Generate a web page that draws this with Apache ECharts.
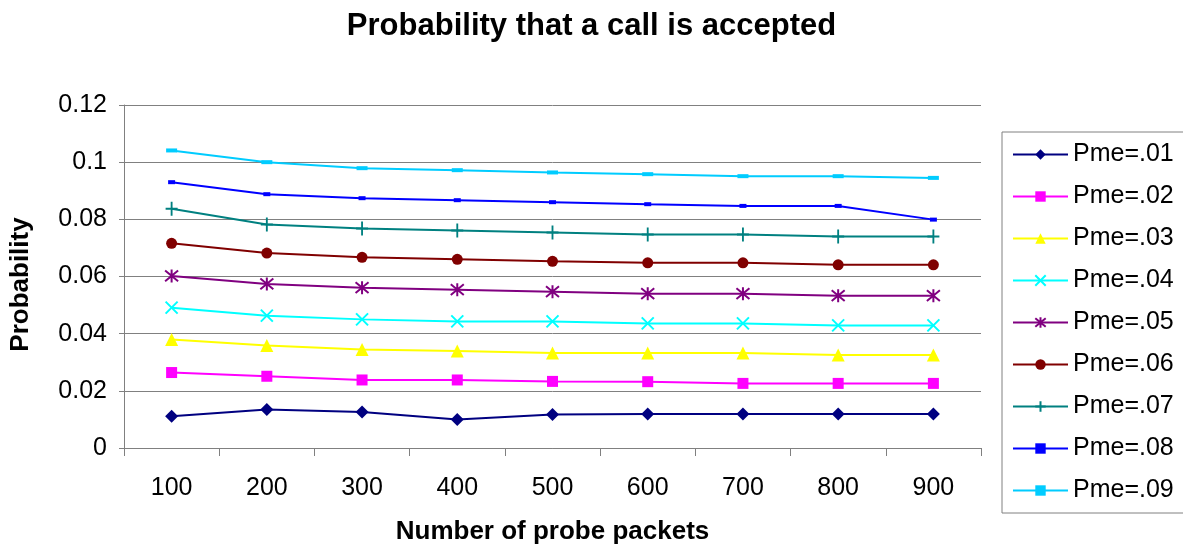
<!DOCTYPE html>
<html>
<head>
<meta charset="utf-8">
<script src="https://cdn.jsdelivr.net/npm/echarts@6/dist/echarts.min.js"></script>
<style>
html, body { margin: 0; padding: 0; background: #fff; }
#main { width: 1183px; height: 550px; }
</style>
</head>
<body>
<div id="main"></div>
<script>
var packets = ['100', '200', '300', '400', '500', '600', '700', '800', '900'];
var names = ['Pme=.01', 'Pme=.02', 'Pme=.03', 'Pme=.04', 'Pme=.05', 'Pme=.06', 'Pme=.07', 'Pme=.08', 'Pme=.09'];
var pme01 = [0.0111, 0.0135, 0.0126, 0.0100, 0.0117, 0.0119, 0.0119, 0.0119, 0.0119];
var pme02 = [0.0264, 0.0251, 0.0238, 0.0238, 0.0233, 0.0232, 0.0226, 0.0226, 0.0226];
var pme03 = [0.0380, 0.0359, 0.0345, 0.0339, 0.0332, 0.0332, 0.0332, 0.0325, 0.0325];
var pme04 = [0.0491, 0.0463, 0.0450, 0.0443, 0.0443, 0.0436, 0.0436, 0.0429, 0.0429];
var pme05 = [0.0602, 0.0574, 0.0561, 0.0554, 0.0547, 0.0540, 0.0540, 0.0533, 0.0533];
var pme06 = [0.0716, 0.0682, 0.0667, 0.0660, 0.0653, 0.0648, 0.0648, 0.0641, 0.0641];
var pme07 = [0.0837, 0.0782, 0.0768, 0.0761, 0.0754, 0.0747, 0.0747, 0.0740, 0.0740];
var pme08 = [0.0930, 0.0888, 0.0874, 0.0867, 0.0860, 0.0853, 0.0847, 0.0847, 0.0799];
var pme09 = [0.1041, 0.1000, 0.0979, 0.0972, 0.0964, 0.0958, 0.0951, 0.0951, 0.0945];

var FONT = '"Liberation Sans", Arial, sans-serif';

// symbol look per series
var styles = [
	{ color: '#000080', symbol: 'diamond', size: 13 },
	{ color: '#FF00FF', symbol: 'rect', size: 11 },
	{ color: '#FFFF00', symbol: 'triangle', size: 13 },
	{ color: '#00FFFF', symbol: 'path://M0,0L10,10M10,0L0,10', size: 12, stroke: true },
	{ color: '#800080', symbol: 'path://M0,0L10,10M10,0L0,10M5,-1L5,11', size: 13, stroke: true },
	{ color: '#800000', symbol: 'circle', size: 11 },
	{ color: '#008080', symbol: 'path://M5,0L5,12M0,6L10,6', size: [12, 14], stroke: true },
	{ color: '#0000FF', symbol: 'rect', size: [7, 4] },
	{ color: '#00CCFF', symbol: 'rect', size: [11, 4] }
];
var allData = [pme01, pme02, pme03, pme04, pme05, pme06, pme07, pme08, pme09];

var series = [];
for (var i = 0; i < names.length; i++) {
	var s = styles[i];
	series.push({
		name: names[i],
		type: 'line',
		data: allData[i],
		symbol: s.symbol,
		symbolSize: s.size,
		symbolKeepAspect: false,
		showAllSymbol: true,
		lineStyle: { color: s.color, width: 2 },
		itemStyle: s.stroke ?
			{ color: 'rgba(0,0,0,0)', borderColor: s.color, borderWidth: 2 } :
			{ color: s.color, borderWidth: 0 },
		emphasis: { disabled: true },
		z: 10 - i
	});
}

var chart = echarts.init(document.getElementById('main'));
chart.setOption({
	animation: false,
	backgroundColor: '#fff',
	title: {
		text: 'Probability that a call is accepted',
		left: 'center',
		top: 6,
		textStyle: { fontFamily: FONT, fontSize: 31, fontWeight: 'bold', color: '#000', letterSpacing: -0.5 }
	},
	legend: {
		orient: 'vertical',
		left: 1002,
		top: 132,
		width: 220,
		padding: [10, 40, 10, 10],
		itemWidth: 55,
		itemHeight: 13,
		itemGap: 17,
		borderColor: '#808080',
		borderWidth: 1,
		textStyle: { fontFamily: FONT, fontSize: 25, color: '#000', lineHeight: 25 },
		data: names
	},
	grid: { left: 124, right: 202, top: 105, bottom: 98 },
	xAxis: {
		type: 'category',
		data: packets,
		boundaryGap: true,
		name: 'Number of probe packets',
		nameLocation: 'middle',
		nameGap: 71,
		nameTextStyle: { fontFamily: FONT, fontSize: 26, fontWeight: 'bold', color: '#000' },
		axisLine: { lineStyle: { color: '#808080', width: 1 } },
		axisTick: { show: true, length: 8, lineStyle: { color: '#808080' } },
		axisLabel: { fontFamily: FONT, fontSize: 25, color: '#000', margin: 28 }
	},
	yAxis: {
		type: 'value',
		min: 0,
		max: 0.12,
		interval: 0.02,
		name: 'Probability',
		nameLocation: 'middle',
		nameGap: 90,
		nameTextStyle: { fontFamily: FONT, fontSize: 26, fontWeight: 'bold', color: '#000', padding: [0, 16, 0, 0] },
		axisLine: { show: true, lineStyle: { color: '#808080', width: 1 } },
		axisTick: { show: true, length: 5, lineStyle: { color: '#808080' } },
		axisLabel: { fontFamily: FONT, fontSize: 25, color: '#000', margin: 17 },
		splitLine: { lineStyle: { color: '#808080', width: 1 } }
	},
	series: series
});
</script>
</body>
</html>
